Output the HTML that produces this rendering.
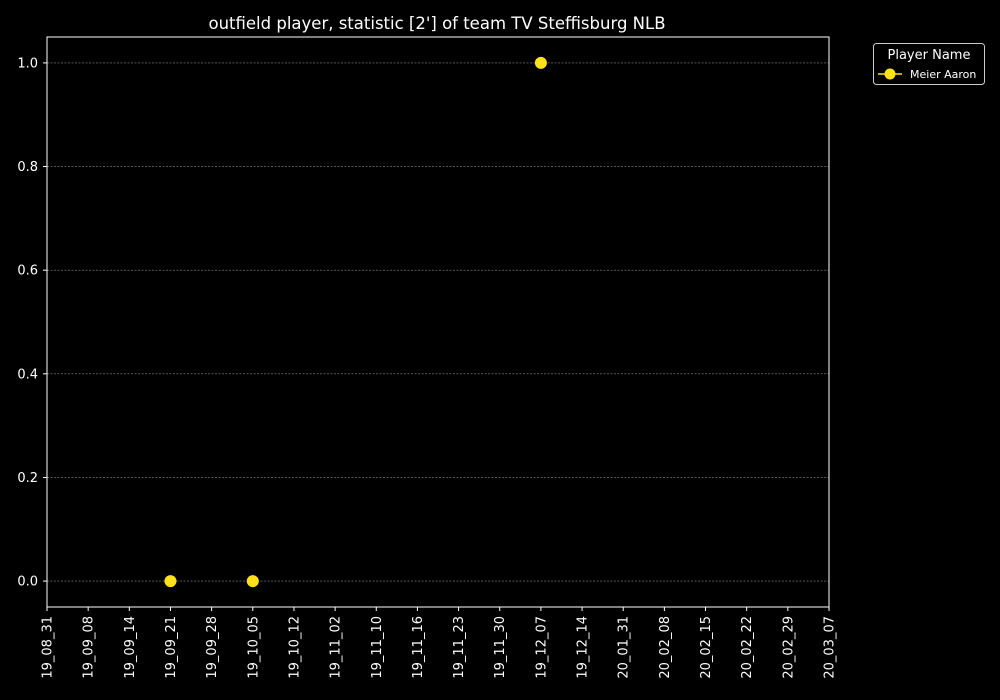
<!DOCTYPE html>
<html><head><meta charset="utf-8">
<style>
html,body{margin:0;padding:0;background:#000;}
svg{display:block;font-family:"DejaVu Sans","Liberation Sans",sans-serif;}
</style></head>
<body>
<svg id="chart" width="1000" height="700" viewBox="0 0 1000 700">
<rect x="0" y="0" width="1000" height="700" fill="#000"/>
<text x="437" y="29" fill="#fff" font-size="16.5" text-anchor="middle">outfield player, statistic [2'] of team TV Steffisburg NLB</text>
<g id="grid"></g>
<g id="xaxis"></g>
<g id="yaxis"></g>
<g id="points"></g>
<rect x="47" y="37" width="782" height="570" fill="none" stroke="#fff" stroke-width="1"/>
<g>
<rect x="873.5" y="43.5" width="111" height="41" rx="3" fill="#000" stroke="#ccc" stroke-width="1"/>
<text x="929" y="59" fill="#fff" font-size="13" text-anchor="middle">Player Name</text>
<line x1="878" y1="74" x2="902" y2="74" stroke="#ffe11a" stroke-width="1.5"/>
<circle cx="890" cy="74" r="5.5" fill="#ffe11a"/>
<text x="910" y="78" fill="#fff" font-size="11">Meier Aaron</text>
</g>
</svg>
<script>
const categories=["19_08_31","19_09_08","19_09_14","19_09_21","19_09_28","19_10_05","19_10_12","19_11_02","19_11_10","19_11_16","19_11_23","19_11_30","19_12_07","19_12_14","20_01_31","20_02_08","20_02_15","20_02_22","20_02_29","20_03_07"];
const pointDates=["19_09_21","19_10_05","19_12_07"];
const pointValues=[0,0,1];
const yTicks=[0,0.2,0.4,0.6,0.8,1.0];
const yTickLabels=["0.0","0.2","0.4","0.6","0.8","1.0"];

const NS="http://www.w3.org/2000/svg";
const L=47,R=829,T=37,B=607,yMin=-0.05,yMax=1.05;
function xScale(i){return L+i*(R-L)/(categories.length-1);}
function yScale(v){return B-(v-yMin)/(yMax-yMin)*(B-T);}
function mk(tag,attrs,parent){const e=document.createElementNS(NS,tag);for(const k in attrs)e.setAttribute(k,attrs[k]);parent.appendChild(e);return e;}
const grid=document.getElementById('grid'),xa=document.getElementById('xaxis'),ya=document.getElementById('yaxis'),pts=document.getElementById('points');
yTicks.forEach((v,i)=>{
 const y=yScale(v);
 const g=mk('line',{x1:L,x2:R,y1:y,y2:y,stroke:'#888','stroke-width':0.6,'stroke-dasharray':'2,1.5'},grid);
 
 
 const t=mk('line',{x1:L-4,x2:L,y1:y,y2:y,stroke:'#fff'},ya);
 
 
 const tx=mk('text',{x:L-9,y:y+4.5,fill:'#fff','font-size':13,'text-anchor':'end'},ya);
 tx.textContent=yTickLabels[i];
 
 
});
categories.forEach((c,i)=>{
 const x=xScale(i);
 const t=mk('line',{x1:x,x2:x,y1:B,y2:B+4,stroke:'#fff'},xa);
 
 
 const tx=mk('text',{x:0,y:0,fill:'#fff','font-size':13,'text-anchor':'end',transform:`translate(${x+4.5},${B+9}) rotate(-90)`},xa);
 tx.textContent=c;
 
 
});
pointDates.forEach((d,i)=>{
 const idx=categories.indexOf(d);
 const c=mk('circle',{cx:xScale(idx),cy:yScale(pointValues[i]),r:6,fill:'#ffe11a'},pts);
 
 
});
</script>
</body></html>
